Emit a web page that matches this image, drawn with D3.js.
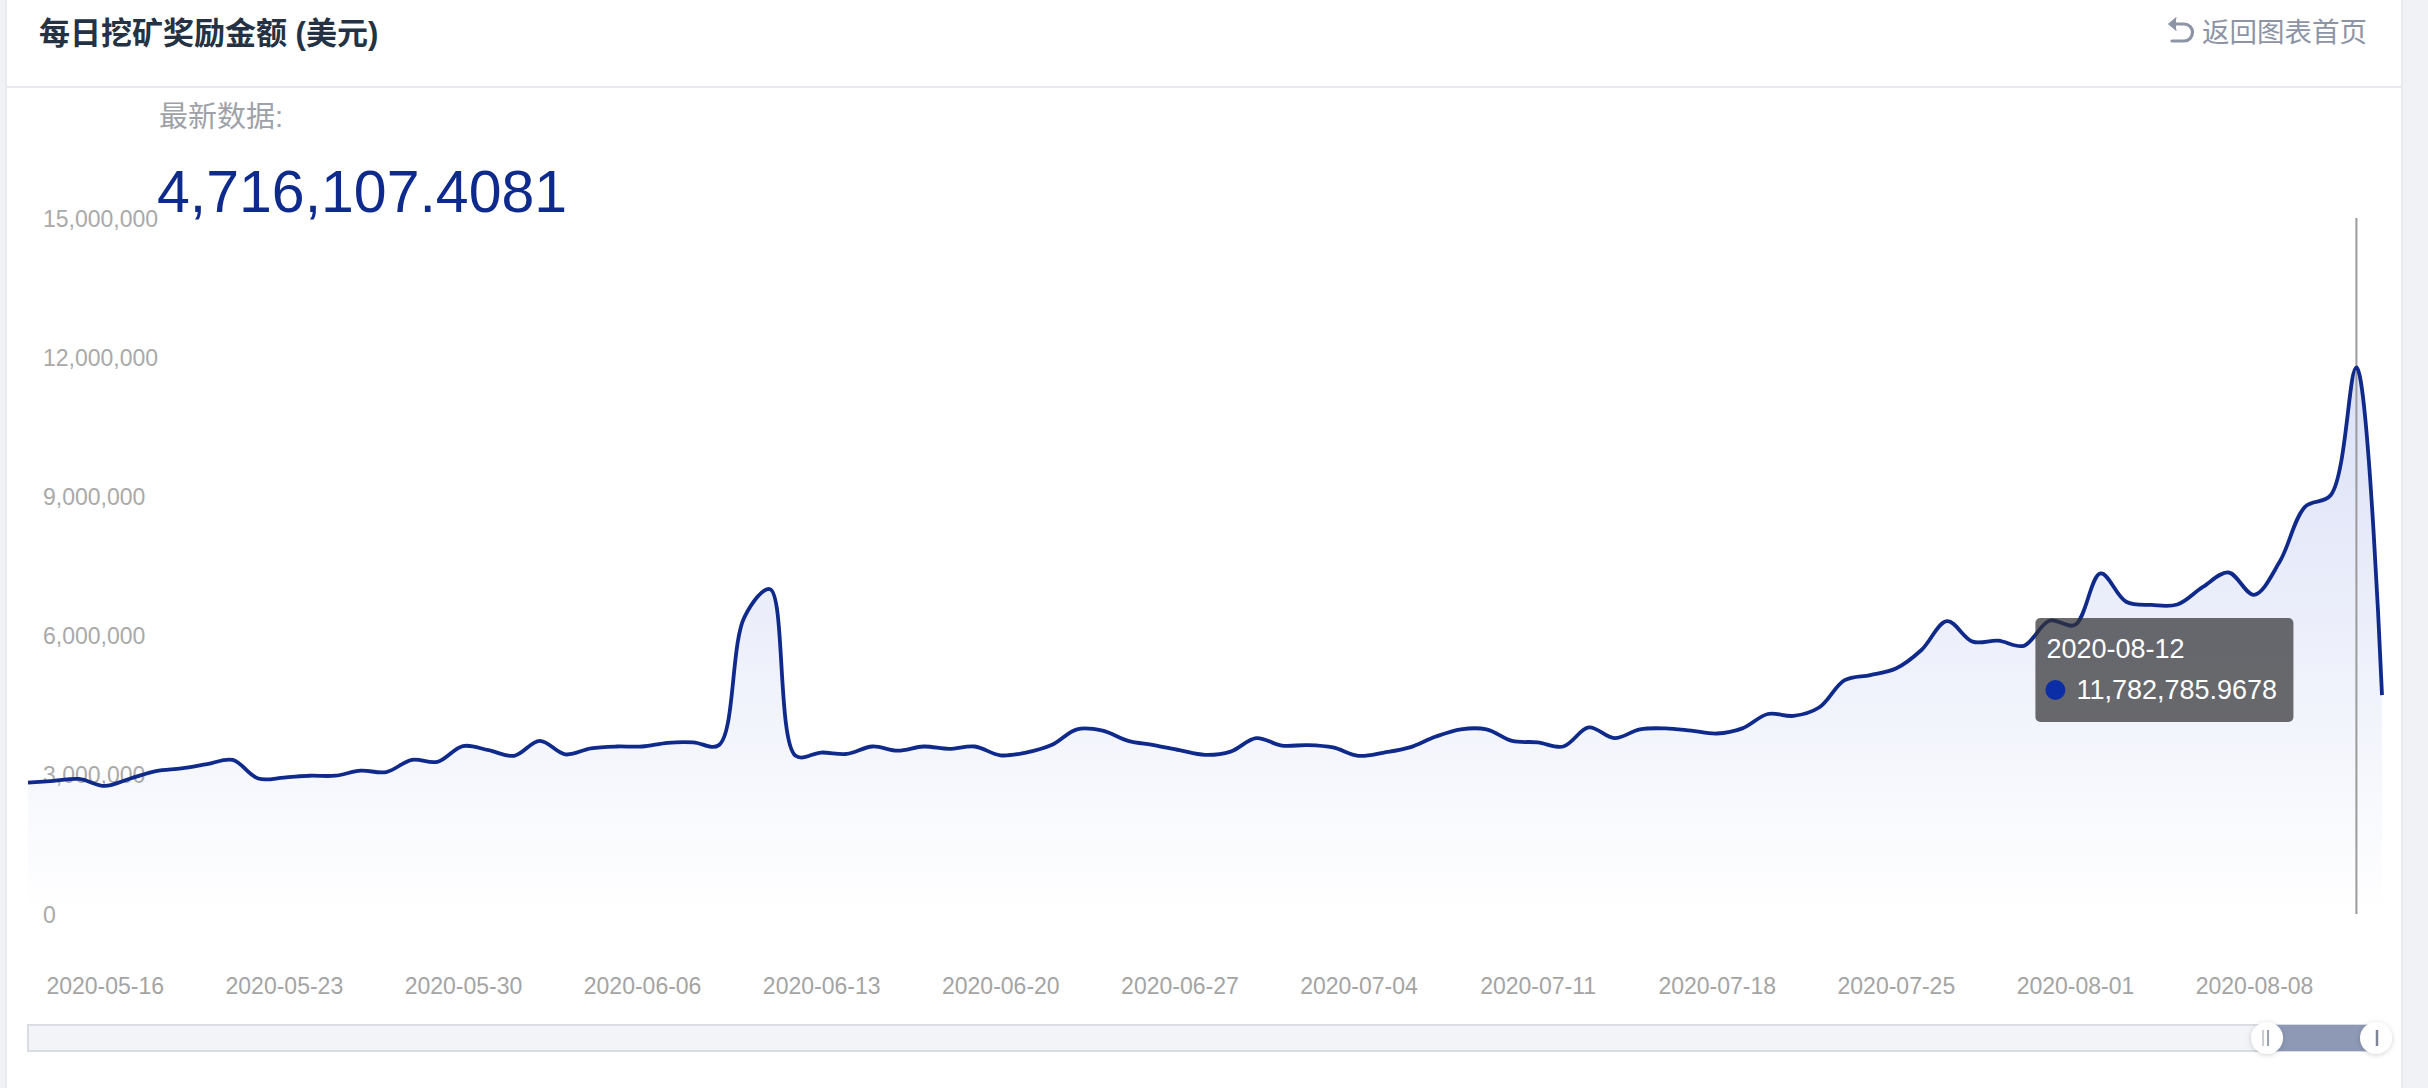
<!DOCTYPE html>
<html>
<head>
<meta charset="utf-8">
<script src="https://cdn.jsdelivr.net/npm/d3@7/dist/d3.min.js"></script>
<style>
  html, body { margin: 0; padding: 0; background: #f0f2f6; }
  svg { display: block; }
  text { font-family: "Liberation Sans", Arial, "Noto Sans CJK SC", sans-serif; }
</style>
</head>
<body>
<svg id="chart" width="2428" height="1088"></svg>
<script>
// ---------------- data ----------------
const titleText = "每日挖矿奖励金额 (美元)";
const backText = "返回图表首页";
const latestLabel = "最新数据:";
const startDate = "2020-05-13";
const endDate = "2020-08-13";
// daily values (USD), one per day from startDate to endDate
const values = [
  2830000, 2870000, 2910000, 2760000, 2920000, 3080000, 3140000, 3230000, 3320000, 2920000,
  2940000, 2980000, 2980000, 3090000, 3060000, 3320000, 3280000, 3620000, 3530000, 3410000,
  3730000, 3440000, 3570000, 3610000, 3610000, 3690000, 3700000, 3640000, 6400000, 7000000,
  3410000, 3480000, 3450000, 3610000, 3520000, 3610000, 3560000, 3610000, 3420000, 3480000,
  3640000, 3980000, 3950000, 3730000, 3640000, 3530000, 3430000, 3500000, 3790000, 3630000,
  3640000, 3590000, 3410000, 3480000, 3590000, 3820000, 3980000, 3980000, 3730000, 3700000,
  3610000, 4020000, 3790000, 3980000, 4000000, 3950000, 3890000, 4000000, 4310000, 4270000,
  4450000, 5040000, 5150000, 5290000, 5690000, 6310000, 5870000, 5890000, 5780000, 6320000,
  6230000, 7340000, 6730000, 6660000, 6670000, 7050000, 7360000, 6880000, 7590000, 8780000,
  9030000, 11782785.9678, 4716107.4081
];
const yTicks = [0, 3000000, 6000000, 9000000, 12000000, 15000000];
const xTickLabels = ["2020-05-16","2020-05-23","2020-05-30","2020-06-06","2020-06-13","2020-06-20",
  "2020-06-27","2020-07-04","2020-07-11","2020-07-18","2020-07-25","2020-08-01","2020-08-08"];
const tooltipIndex = 91;
const zoomStartDate = "2020-08-08";

// ---------------- setup ----------------
const parse = d3.timeParse("%Y-%m-%d");
const fmtDate = d3.timeFormat("%Y-%m-%d");
const dates = d3.timeDay.range(parse(startDate), d3.timeDay.offset(parse(endDate), 1));
const data = dates.map((d, i) => ({ date: d, value: values[i] }));

const svg = d3.select("#chart");
const W = 2428, H = 1088;

const x = d3.scaleTime().domain([parse(startDate), parse(endDate)]).range([28, 2382]);
const y = d3.scaleLinear().domain([0, 15000000]).range([914, 218]);

// card
svg.append("rect").attr("x", 6).attr("y", -2).attr("width", 2396).attr("height", H + 4)
  .attr("fill", "#ffffff").attr("stroke", "#e3e6ec").attr("stroke-width", 1.5);

// header
svg.append("text").attr("x", 39).attr("y", 33).attr("dominant-baseline", "central")
  .attr("font-size", 31).attr("font-weight", 600).attr("fill", "#253243").text(titleText);
svg.append("line").attr("x1", 6).attr("x2", 2402).attr("y1", 87).attr("y2", 87)
  .attr("stroke", "#e8eaef").attr("stroke-width", 2);

// back link with icon
const back = svg.append("g").attr("fill", "none").attr("stroke", "#8c94a6").attr("stroke-width", 3.2)
  .attr("stroke-linecap", "round");
back.append("path").attr("d", "M2171,24 L2184,24 A8.5,8.5 0 0 1 2184,41 L2172,41");
back.append("path").attr("d", "M2176,18 L2169,24 L2176,30").attr("fill", "#8c94a6").attr("stroke-width", 1.5);
svg.append("text").attr("x", 2202).attr("y", 32).attr("dominant-baseline", "central")
  .attr("font-size", 27.5).attr("fill", "#8c94a6").text(backText);

// latest data
svg.append("text").attr("x", 159).attr("y", 117).attr("dominant-baseline", "central")
  .attr("font-size", 29).attr("fill", "#9ea2a8").text(latestLabel);

// gradient
const defs = svg.append("defs");
const maxV = d3.max(values);
const grad = defs.append("linearGradient").attr("id", "areaGrad")
  .attr("gradientUnits", "userSpaceOnUse").attr("x1", 0).attr("x2", 0)
  .attr("y1", y(maxV)).attr("y2", y(0));
grad.append("stop").attr("offset", "0%").attr("stop-color", "#d9dff6");
grad.append("stop").attr("offset", "100%").attr("stop-color", "#ffffff");

const curve = d3.curveCatmullRom.alpha(0.5);
const area = d3.area().x(d => x(d.date)).y0(y(0)).y1(d => y(d.value)).curve(curve);
const line = d3.line().x(d => x(d.date)).y(d => y(d.value)).curve(curve);

svg.append("path").datum(data).attr("d", area).attr("fill", "url(#areaGrad)").attr("opacity", 0.95);

// y axis labels (inside plot, left aligned) - above area, under line
const yAxis = d3.axisLeft(y).tickValues(yTicks).tickFormat(d3.format(",")).tickSize(0).tickPadding(0);
const gy = svg.append("g").attr("transform", "translate(43,0)").call(yAxis);
gy.select(".domain").remove();
gy.selectAll("text").attr("text-anchor", "start").attr("x", 0).attr("dy", "0.35em")
  .attr("font-size", 23).attr("fill", "#a9a9a9").attr("font-family", "Liberation Sans, Arial, sans-serif");

// big latest value (drawn after labels so it sits above)
svg.append("text").attr("x", 157).attr("y", 212)
  .attr("font-size", 59).attr("fill", "#0e2a8c").text(d3.format(",.4f")(values[values.length - 1]));

// x axis labels
const xAxis = d3.axisBottom(x).tickValues(xTickLabels.map(parse)).tickFormat(fmtDate).tickSize(0).tickPadding(0);
const gx = svg.append("g").attr("transform", "translate(0,986)").call(xAxis);
gx.select(".domain").remove();
gx.selectAll("text").attr("y", 0).attr("dy", "0.35em")
  .attr("font-size", 23).attr("fill", "#a4a4a4").attr("font-family", "Liberation Sans, Arial, sans-serif");

// axis pointer
const tipD = data[tooltipIndex];
svg.append("line").attr("x1", x(tipD.date)).attr("x2", x(tipD.date))
  .attr("y1", y(15000000)).attr("y2", y(0)).attr("stroke", "#9b9b9b").attr("stroke-width", 2);

svg.append("path").datum(data).attr("d", line).attr("fill", "none")
  .attr("stroke", "#0f2a8b").attr("stroke-width", 3.8).attr("stroke-linejoin", "round");

// tooltip
const tx = x(tipD.date) - 321, ty = 618;
const tip = svg.append("g").attr("transform", `translate(${tx},${ty})`);
tip.append("rect").attr("width", 258).attr("height", 104).attr("rx", 5)
  .attr("fill", "rgba(50,50,52,0.72)");
tip.append("text").attr("x", 11).attr("y", 31).attr("dominant-baseline", "central")
  .attr("font-size", 27).attr("fill", "#ffffff").text(fmtDate(tipD.date));
tip.append("circle").attr("cx", 20).attr("cy", 72).attr("r", 10).attr("fill", "#0b2ea6");
tip.append("text").attr("x", 41).attr("y", 72).attr("dominant-baseline", "central")
  .attr("font-size", 27).attr("fill", "#ffffff").text(d3.format(",.4f")(tipD.value));

// data zoom slider
const sx0 = x.range()[0], sx1 = 2376;
svg.append("rect").attr("x", sx0).attr("y", 1025).attr("width", sx1 - sx0).attr("height", 26)
  .attr("fill", "#f3f4f8").attr("stroke", "#d9dce3").attr("stroke-width", 2);
const zs = x(parse(zoomStartDate)) + 13;
svg.append("rect").attr("x", zs).attr("y", 1025).attr("width", sx1 - zs).attr("height", 26)
  .attr("fill", "#8e99b6");
const fil = defs.append("filter").attr("id", "sh").attr("x", "-50%").attr("y", "-50%").attr("width", "200%").attr("height", "200%");
fil.append("feDropShadow").attr("dx", 0).attr("dy", 1).attr("stdDeviation", 2.5).attr("flood-color", "#000").attr("flood-opacity", 0.18);
[zs, sx1].forEach((hx, k) => {
  const g = svg.append("g");
  g.append("circle").attr("cx", hx).attr("cy", 1038).attr("r", 16).attr("fill", "#ffffff").attr("filter", "url(#sh)");
  if (k === 0) {
    g.append("line").attr("x1", hx - 4).attr("x2", hx - 4).attr("y1", 1030).attr("y2", 1046).attr("stroke", "#c9ccd3").attr("stroke-width", 2);
    g.append("line").attr("x1", hx + 1).attr("x2", hx + 1).attr("y1", 1030).attr("y2", 1046).attr("stroke", "#9aa0ad").attr("stroke-width", 2);
  } else {
    g.append("line").attr("x1", hx + 1).attr("x2", hx + 1).attr("y1", 1030).attr("y2", 1046).attr("stroke", "#7d8596").attr("stroke-width", 2.5);
  }
});
</script>
</body>
</html>
